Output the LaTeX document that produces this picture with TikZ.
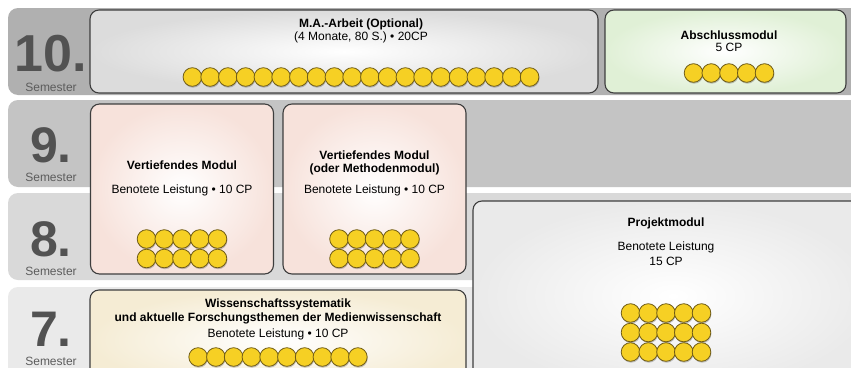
\documentclass[tikz,border=0pt]{standalone}
\usepackage{fontspec}
\setmainfont{Liberation Sans}
\usepackage{tikz}
\usetikzlibrary{positioning,calc}
\usepackage{xcolor}

\definecolor{bandTen}{RGB}{176,176,176}
\definecolor{bandNine}{RGB}{196,196,196}
\definecolor{bandEight}{RGB}{217,217,217}
\definecolor{bandSeven}{RGB}{234,234,234}
\definecolor{semGray}{RGB}{82,82,82}
\definecolor{semLabel}{RGB}{92,92,92}
\definecolor{boxEdge}{RGB}{62,62,62}
\definecolor{coinYellow}{RGB}{246,208,36}
\definecolor{coinEdge}{RGB}{112,92,22}
\definecolor{arbeitGray}{RGB}{220,220,220}
\definecolor{abschlussGreen}{RGB}{224,240,214}
\definecolor{vertiefPink}{RGB}{247,226,219}
\definecolor{wissBeige}{RGB}{245,236,212}
\definecolor{projektGray}{RGB}{234,234,234}

\tikzset{
  modbox/.style={draw=boxEdge,line width=1.1pt,rounded corners=9pt,
                 shading=radial,inner color=white,inner sep=0pt},
  modtitle/.style={font=\bfseries\fontsize{12}{13.5}\selectfont,align=center,inner sep=0pt},
  modinfo/.style={font=\fontsize{12}{14.5}\selectfont,align=center,inner sep=0pt},
  semnum/.style={font=\bfseries\fontsize{50}{50}\selectfont,text=semGray,inner sep=0pt,
                 anchor=base,text depth=0pt},
  semlabel/.style={font=\fontsize{12}{12}\selectfont,text=semLabel,inner sep=0pt},
  coin/.style={fill=coinYellow,draw=coinEdge,line width=0.8pt},
  coinshadow/.style={fill=black,opacity=0.22}
}

% #1 centre x, #2 first row y, #3 coins per row, #4 rows
\newcommand{\cpcoins}[4]{%
  \foreach \r in {1,...,#4}{
    \foreach \c in {1,...,#3}{
      \fill[coinshadow] ({#1+(\c-(#3+1)/2)*17.75+0.6},{#2+(\r-1)*19.5+1.4}) circle (9.3pt);
      \draw[coin] ({#1+(\c-(#3+1)/2)*17.75},{#2+(\r-1)*19.5}) circle (9.3pt);
    }
  }
}

\begin{document}
\begin{tikzpicture}[x=1pt,y=-1pt]
  \useasboundingbox (0,0) rectangle (851,367);
  \clip (0,0) rectangle (851,367);
  \fill[white] (0,0) rectangle (851,367);

  % semester bands
  \fill[bandTen,rounded corners=10pt] (8,8) rectangle (880,95);
  \fill[bandNine,rounded corners=10pt] (8,100) rectangle (880,187);
  \fill[bandEight,rounded corners=10pt] (8,193) rectangle (880,280);
  \fill[bandSeven,rounded corners=10pt] (8,287) rectangle (880,400);

  \node[semnum,font=\bfseries\fontsize{52}{52}\selectfont] (semTen) at (51,71) {10.};
  \node[semlabel] (semTenLabel) at (51,87) {Semester};
  \node[semnum] (semNine) at (51,162) {9.};
  \node[semlabel] (semNineLabel) at (51,177) {Semester};
  \node[semnum] (semEight) at (51,256) {8.};
  \node[semlabel] (semEightLabel) at (51,271) {Semester};
  \node[semnum] (semSeven) at (51,346) {7.};
  \node[semlabel] (semSevenLabel) at (51,361.5) {Semester};

  % 10. Semester
  \node[modbox,outer color=arbeitGray,minimum width=508pt,minimum height=83pt] (arbeit) at (344,51.5) {};
  \node[modtitle] (arbeitTitle) at (361,24) {M.A.-Arbeit (Optional)};
  \node[modinfo] (arbeitInfo) at (361,37) {(4 Monate, 80 S.) • 20CP};
  \cpcoins{361}{77}{20}{1}

  \node[modbox,outer color=abschlussGreen,minimum width=241pt,minimum height=83pt] (abschluss) at (725.5,51.5) {};
  \node[modtitle] (abschlussTitle) at (729,35) {Abschlussmodul};
  \node[modinfo] (abschlussInfo) at (729,47) {5 CP};
  \cpcoins{729}{73}{5}{1}

  % 9. / 8. Semester
  \node[modbox,outer color=vertiefPink,minimum width=183pt,minimum height=170pt] (vertiefA) at (182,189) {};
  \node[modtitle] (vertiefATitle) at (182,165) {Vertiefendes Modul};
  \node[modinfo] (vertiefAInfo) at (182,190) {Benotete Leistung • 10 CP};
  \cpcoins{182}{239}{5}{2}

  \node[modbox,outer color=vertiefPink,minimum width=183pt,minimum height=170pt] (vertiefB) at (374.5,189) {};
  \node[modtitle] (vertiefBTitle) at (374.5,163) {Vertiefendes Modul\\(oder Methodenmodul)};
  \node[modinfo] (vertiefBInfo) at (374.5,190) {Benotete Leistung • 10 CP};
  \cpcoins{374.5}{239}{5}{2}

  \node[modbox,outer color=projektGray,minimum width=400pt,minimum height=190pt] (projekt) at (673,296) {};
  \node[modtitle] (projektTitle) at (666,223) {Projektmodul};
  \node[modinfo] (projektInfo) at (666,253.5) {Benotete Leistung\\15 CP};
  \cpcoins{666}{313}{5}{3}

  % 7. Semester
  \node[modbox,outer color=wissBeige,minimum width=376pt,minimum height=100pt] (wiss) at (278,340) {};
  \node[modtitle] (wissTitle) at (278,311.5) {Wissenschaftssystematik\\und aktuelle Forschungsthemen der Medienwissenschaft};
  \node[modinfo] (wissInfo) at (278,334) {Benotete Leistung • 10 CP};
  \cpcoins{278}{357}{10}{1}
\end{tikzpicture}
\end{document}
